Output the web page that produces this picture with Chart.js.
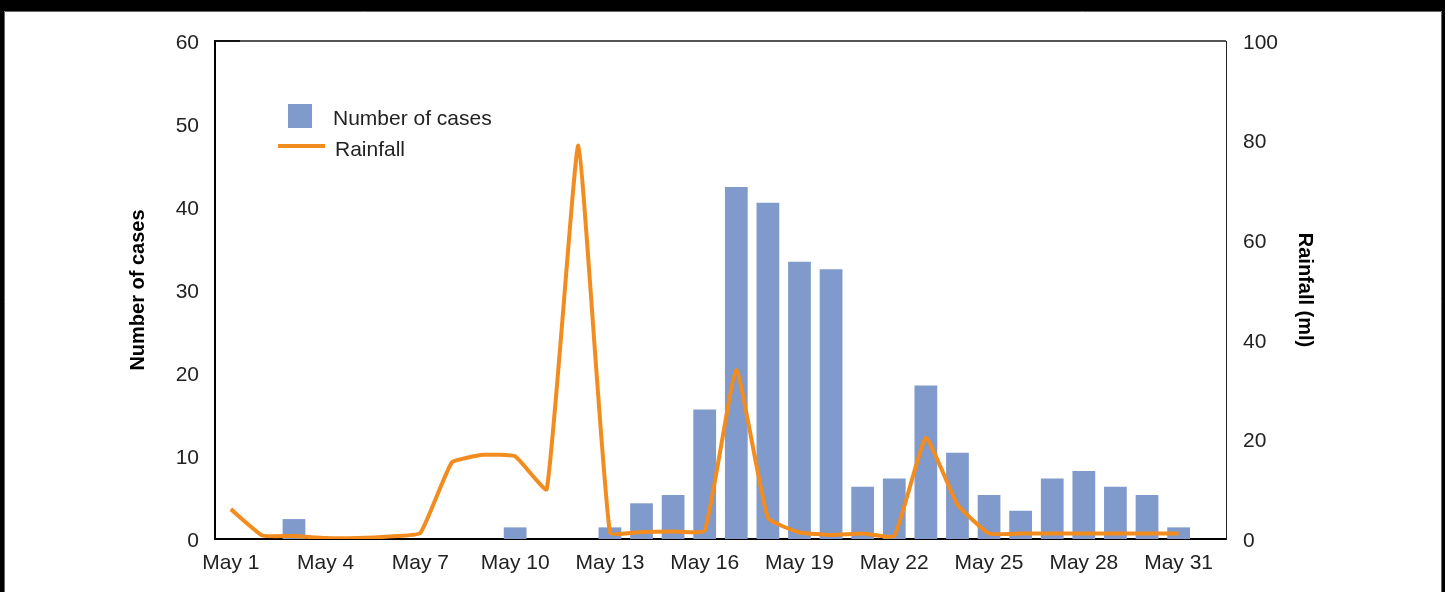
<!DOCTYPE html>
<html>
<head>
<meta charset="utf-8">
<script src="https://cdn.jsdelivr.net/npm/chart.js@4"></script>
<style>
  html, body { margin: 0; padding: 0; background: #000; }
  canvas { display: block; }
</style>
</head>
<body>
<canvas id="cases-chart" width="1445" height="592"></canvas>
<script>
const days = [
  'May 1', 'May 2', 'May 3', 'May 4', 'May 5', 'May 6', 'May 7', 'May 8',
  'May 9', 'May 10', 'May 11', 'May 12', 'May 13', 'May 14', 'May 15', 'May 16',
  'May 17', 'May 18', 'May 19', 'May 20', 'May 21', 'May 22', 'May 23', 'May 24',
  'May 25', 'May 26', 'May 27', 'May 28', 'May 29', 'May 30', 'May 31', '',
]
const shownDays = ['May 1', 'May 4', 'May 7', 'May 10', 'May 13', 'May 16', 'May 19', 'May 22', 'May 25', 'May 28', 'May 31']

const cases = [
  0, 0, 2.4, 0, 0, 0, 0, 0, 0, 1.4, 0, 0, 1.4, 4.3, 5.3, 15.6,
  42.4, 40.5, 33.4, 32.5, 6.3, 7.3, 18.5, 10.4, 5.3, 3.4, 7.3, 8.2, 6.3, 5.3, 1.4,
]
const rainfall = [
  6, 0.7, 0.6, 0.2, 0.2, 0.5, 1.2, 15.4, 16.9, 16.6, 10, 79, 1.3, 1.4, 1.5, 1.7,
  34, 4.2, 1.3, 0.8, 1.1, 0.6, 20.3, 6.9, 1.1, 1.1, 1.1, 1.1, 1.1, 1.1, 1.1,
]
const casesTicks = [0, 10, 20, 30, 40, 50, 60]
const rainTicks = [0, 20, 40, 60, 80, 100]

const barColor = '#7f9acb'
const lineColor = '#f28c1f'
const textColor = '#222222'
const fontFamily = '"Liberation Sans", Arial, Helvetica, sans-serif'
const tickFont = { family: fontFamily, size: 21 }
const titleFont = { family: fontFamily, size: 20, weight: 'bold' }

// black frame around a white card
const framePlugin = {
  id: 'frame',
  beforeDraw(chart) {
    const { ctx, width, height } = chart
    ctx.save()
    ctx.fillStyle = '#000'
    ctx.fillRect(0, 0, width, height)
    ctx.fillStyle = '#fff'
    ctx.fillRect(4, 11, width - 7, height - 11)
    ctx.strokeStyle = '#666'
    ctx.lineWidth = 1
    ctx.beginPath()
    ctx.moveTo(4.5, height)
    ctx.lineTo(4.5, 11.5)
    ctx.lineTo(width - 3.5, 11.5)
    ctx.lineTo(width - 3.5, height)
    ctx.stroke()
    ctx.restore()
  },
  afterDatasetsDraw(chart) {
    const { ctx, chartArea } = chart
    ctx.save()
    ctx.lineWidth = 2
    ctx.strokeStyle = '#555'
    ctx.beginPath()
    ctx.moveTo(chartArea.left, chartArea.top)
    ctx.lineTo(chartArea.right, chartArea.top)
    ctx.stroke()
    ctx.strokeStyle = '#111'
    ctx.beginPath()
    ctx.moveTo(chartArea.left, chartArea.top)
    ctx.lineTo(chartArea.left + 25, chartArea.top)
    ctx.stroke()
    ctx.restore()
  },
}

// legend sits inside the plot, top left
const insideLegend = {
  id: 'insideLegend',
  afterDraw(chart) {
    const { ctx, chartArea } = chart
    const x = chartArea.left
    const y = chartArea.top
    const [bars, line] = chart.data.datasets
    ctx.save()
    ctx.font = `21px ${fontFamily}`
    ctx.fillStyle = textColor
    ctx.textBaseline = 'middle'
    ctx.textAlign = 'left'

    ctx.fillStyle = bars.backgroundColor
    ctx.fillRect(x + 73, y + 63, 24, 24)
    ctx.fillStyle = textColor
    ctx.fillText(bars.label, x + 118, y + 78)

    ctx.strokeStyle = line.borderColor
    ctx.lineWidth = 4
    ctx.beginPath()
    ctx.moveTo(x + 63, y + 105)
    ctx.lineTo(x + 110, y + 105)
    ctx.stroke()
    ctx.fillStyle = textColor
    ctx.fillText(line.label, x + 120, y + 109)
    ctx.restore()
  },
}

new Chart(document.querySelector('#cases-chart'), {
  type: 'bar',
  data: {
    labels: days,
    datasets: [
      {
        label: 'Number of cases',
        data: cases,
        backgroundColor: barColor,
        yAxisID: 'y',
        barPercentage: 0.72,
        categoryPercentage: 1,
        order: 2,
      },
      {
        type: 'line',
        label: 'Rainfall',
        data: rainfall,
        borderColor: lineColor,
        backgroundColor: lineColor,
        borderWidth: 4,
        pointRadius: 0,
        tension: 0.12,
        yAxisID: 'y1',
        order: 1,
      },
    ],
  },
  options: {
    responsive: false,
    animation: false,
    layout: { padding: { top: 41, left: 0, right: 0, bottom: 0 } },
    plugins: {
      legend: { display: false },
      tooltip: { enabled: false },
    },
    scales: {
      x: {
        grid: { display: false, drawTicks: false },
        border: { color: '#000', width: 2 },
        ticks: {
          autoSkip: false,
          maxRotation: 0,
          padding: 12,
          color: textColor,
          font: tickFont,
          callback: function (value) {
            const label = this.getLabelForValue(value)
            return shownDays.includes(label) ? label : ''
          },
        },
        afterFit: (scale) => { scale.height = 53 },
      },
      y: {
        position: 'left',
        min: casesTicks[0],
        max: casesTicks[casesTicks.length - 1],
        grid: { display: false, drawTicks: false },
        border: { color: '#000', width: 2 },
        afterBuildTicks: (scale) => { scale.ticks = casesTicks.map((v) => ({ value: v })) },
        ticks: { padding: 16, labelOffset: 2, color: textColor, font: tickFont },
        title: {
          display: true,
          text: 'Number of cases',
          color: '#000',
          font: titleFont,
          padding: { top: 126, bottom: 0 },
        },
        afterFit: (scale) => { scale.width = 215 },
      },
      y1: {
        position: 'right',
        min: rainTicks[0],
        max: rainTicks[rainTicks.length - 1],
        grid: { display: false, drawTicks: false },
        border: { color: '#222', width: 1 },
        afterBuildTicks: (scale) => { scale.ticks = rainTicks.map((v) => ({ value: v })) },
        ticks: { padding: 17, labelOffset: 2, color: textColor, font: tickFont },
        title: {
          display: true,
          text: 'Rainfall (ml)',
          color: '#000',
          font: titleFont,
          padding: { top: 128, bottom: 0 },
        },
        afterFit: (scale) => { scale.width = 219 },
      },
    },
  },
  plugins: [framePlugin, insideLegend],
})
</script>
</body>
</html>
